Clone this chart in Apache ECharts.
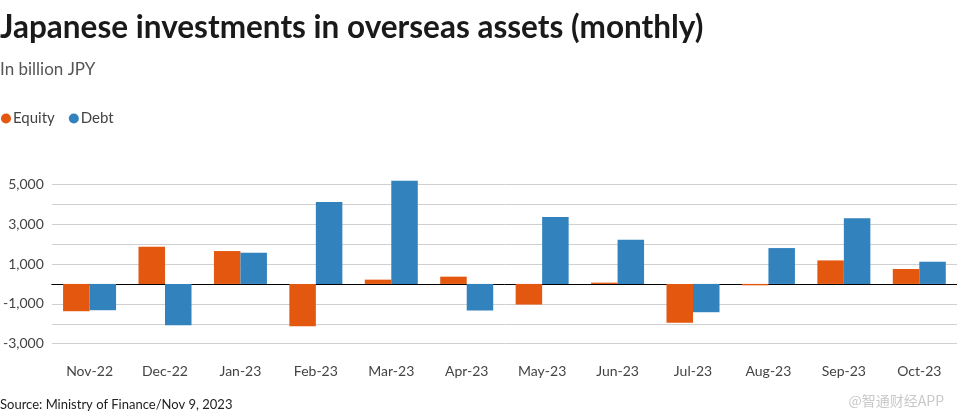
<!DOCTYPE html>
<html><head><meta charset="utf-8">
<script src="https://cdn.jsdelivr.net/npm/echarts@6/dist/echarts.min.js"></script>
<style>html,body{margin:0;padding:0;background:#fff}#c{width:957px;height:414px}</style>
</head><body><div id="c"></div>
<script>
const categories = ['Nov-22','Dec-22','Jan-23','Feb-23','Mar-23','Apr-23','May-23','Jun-23','Jul-23','Aug-23','Sep-23','Oct-23'];
const equity = [-1370, 1865, 1650, -2120, 215, 365, -1035, 65, -1950, -70, 1180, 750];
const debt = [-1320, -2070, 1565, 4115, 5180, -1335, 3365, 2215, -1420, 1800, 3300, 1115];
const yTickLabels = [-3000, -1000, 1000, 3000, 5000];

const font = 'Lato';
const chart = echarts.init(document.getElementById('c'));
chart.setOption({
  animation: false,
  textStyle: {fontFamily: font},
  title: [
    {text: 'Japanese investments in overseas assets (monthly)', left: 0, top: 12, padding: 0,
     textStyle: {fontFamily: font, fontSize: 31.5, fontWeight: 'bold', color: '#1a1a1a'}},
    {text: 'In billion JPY', left: 0, top: 61, padding: 0,
     textStyle: {fontFamily: font, fontSize: 17, fontWeight: 'normal', color: '#555'}},
    {text: 'Source: Ministry of Finance/Nov 9, 2023', left: 0, top: 398, padding: 0,
     textStyle: {fontFamily: font, fontSize: 13, fontWeight: 'normal', color: '#222'}},
    {text: '@智通财经APP', right: 8, top: 389,
     textStyle: {fontFamily: 'Noto Sans CJK SC', fontSize: 14, fontWeight: 'normal', color: '#c8c8c8'}}
  ],
  legend: {
    left: -4, top: 106, itemWidth: 10, itemHeight: 10, itemGap: 14,
    icon: 'circle',
    textStyle: {fontFamily: font, fontSize: 15, color: '#444', padding: [0,0,0,-3]},
    data: ['Equity', 'Debt']
  },
  grid: {left: 51, right: 0, top: 184.3, bottom: 414 - 343.7, containLabel: false},
  xAxis: {
    type: 'category', data: categories,
    axisLine: {onZero: true, lineStyle: {color: '#000', width: 1}},
    axisTick: {show: false},
    axisLabel: {fontFamily: font, fontSize: 14, color: '#444', margin: 21},
    position: 'bottom'
  },
  yAxis: {
    type: 'value', min: -3000, max: 5000, interval: 1000,
    axisLine: {show: false}, axisTick: {show: false},
    splitLine: {lineStyle: {color: '#d0d0d0', width: 1}},
    axisLabel: {fontFamily: font, fontSize: 14, color: '#444', margin: 8,
      formatter: v => yTickLabels.includes(v) ? v.toLocaleString('en-US') : ''}
  },
  series: [
    {name: 'Equity', type: 'bar', data: equity, barWidth: 26.5, barGap: '0%',
     clip: false, itemStyle: {color: '#e3570f'}},
    {name: 'Debt', type: 'bar', data: debt, barWidth: 26.5, barGap: '0%',
     clip: false, itemStyle: {color: '#3282bd'}}
  ]
});
</script></body></html>
